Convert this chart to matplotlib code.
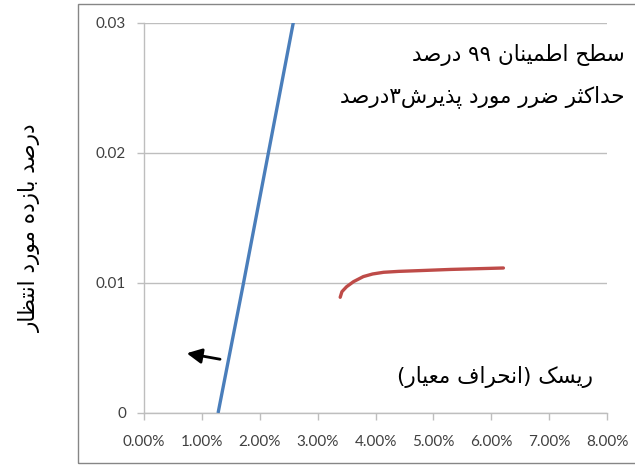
import matplotlib.pyplot as plt
from matplotlib.patches import Rectangle
from matplotlib.ticker import FuncFormatter

# خط بازار سرمایه (آبی) و مرز کارا (قرمز)
blue_x = [0.0128, 0.0172, 0.0215, 0.0258]
blue_y = [0.0, 0.01, 0.02, 0.03]

red_x = [0.0339, 0.0342, 0.0350, 0.0362, 0.0379, 0.0395, 0.0414, 0.0440, 0.0477, 0.0530, 0.0580, 0.0621]
red_y = [0.00889, 0.00932, 0.00970, 0.01009, 0.01048, 0.01068, 0.01081, 0.01088, 0.01094, 0.01103, 0.01109, 0.01114]

x_ticks = [0.0, 0.01, 0.02, 0.03, 0.04, 0.05, 0.06, 0.07, 0.08]
y_ticks = [0.0, 0.01, 0.02, 0.03]

arrow_tail = (0.01314, 0.00413)
arrow_tip = (0.00738, 0.00459)

title1 = "سطح اطمینان ۹۹ درصد"
title2 = "حداکثر ضرر مورد پذیرش۳درصد"
xlabel = "ریسک (انحراف معیار)"
ylabel = "درصد بازده مورد انتظار"


# شکل‌دهی ساده حروف فارسی (isolated, final, initial, medial)
FORMS = {
    "ا": (0xFE8D, 0xFE8E, None, None),
    "ب": (0xFE8F, 0xFE90, 0xFE91, 0xFE92),
    "پ": (0xFB56, 0xFB57, 0xFB58, 0xFB59),
    "ت": (0xFE95, 0xFE96, 0xFE97, 0xFE98),
    "ث": (0xFE99, 0xFE9A, 0xFE9B, 0xFE9C),
    "ج": (0xFE9D, 0xFE9E, 0xFE9F, 0xFEA0),
    "چ": (0xFB7A, 0xFB7B, 0xFB7C, 0xFB7D),
    "ح": (0xFEA1, 0xFEA2, 0xFEA3, 0xFEA4),
    "خ": (0xFEA5, 0xFEA6, 0xFEA7, 0xFEA8),
    "د": (0xFEA9, 0xFEAA, None, None),
    "ذ": (0xFEAB, 0xFEAC, None, None),
    "ر": (0xFEAD, 0xFEAE, None, None),
    "ز": (0xFEAF, 0xFEB0, None, None),
    "ژ": (0xFB8A, 0xFB8B, None, None),
    "س": (0xFEB1, 0xFEB2, 0xFEB3, 0xFEB4),
    "ش": (0xFEB5, 0xFEB6, 0xFEB7, 0xFEB8),
    "ص": (0xFEB9, 0xFEBA, 0xFEBB, 0xFEBC),
    "ض": (0xFEBD, 0xFEBE, 0xFEBF, 0xFEC0),
    "ط": (0xFEC1, 0xFEC2, 0xFEC3, 0xFEC4),
    "ظ": (0xFEC5, 0xFEC6, 0xFEC7, 0xFEC8),
    "ع": (0xFEC9, 0xFECA, 0xFECB, 0xFECC),
    "غ": (0xFECD, 0xFECE, 0xFECF, 0xFED0),
    "ف": (0xFED1, 0xFED2, 0xFED3, 0xFED4),
    "ق": (0xFED5, 0xFED6, 0xFED7, 0xFED8),
    "ک": (0xFB8E, 0xFB8F, 0xFB90, 0xFB91),
    "گ": (0xFB92, 0xFB93, 0xFB94, 0xFB95),
    "ل": (0xFEDD, 0xFEDE, 0xFEDF, 0xFEE0),
    "م": (0xFEE1, 0xFEE2, 0xFEE3, 0xFEE4),
    "ن": (0xFEE5, 0xFEE6, 0xFEE7, 0xFEE8),
    "و": (0xFEED, 0xFEEE, None, None),
    "ه": (0xFEE9, 0xFEEA, 0xFEEB, 0xFEEC),
    "ی": (0xFBFC, 0xFBFD, 0xFBFE, 0xFBFF),
}


def joins_next(c):
    return c in FORMS and FORMS[c][2] is not None


def fa(text):
    out = []
    for i, c in enumerate(text):
        if c not in FORMS:
            out.append(c)
            continue
        prev = text[i - 1] if i > 0 else ""
        nxt = text[i + 1] if i + 1 < len(text) else ""
        p = joins_next(prev)
        n = joins_next(c) and nxt in FORMS
        iso, fin, ini, med = FORMS[c]
        if p and n:
            code = med
        elif p:
            code = fin
        elif n:
            code = ini
        else:
            code = iso
        out.append(chr(code))
    s = "".join(out)[::-1]
    return s.translate(str.maketrans("()", ")("))


fig = plt.figure(figsize=(6.35, 4.66), dpi=100)
ax = fig.add_axes([144 / 635, 1 - 413 / 466, 463 / 635, 390.5 / 466])

# قاب بیرونی نمودار
fig.patches.append(Rectangle((78 / 635, 3 / 466), 0.9, 459 / 466, transform=fig.transFigure,
                             fill=False, edgecolor="#868686", linewidth=1.0))

ax.plot(blue_x, blue_y, color="#4a7ebb", linewidth=2.4, solid_capstyle="butt", zorder=3)
ax.plot(red_x, red_y, color="#be4b48", linewidth=2.4, solid_capstyle="round", zorder=3)

ax.annotate("", xy=arrow_tip, xytext=arrow_tail,
            arrowprops=dict(arrowstyle="-|>,head_length=0.9,head_width=0.45",
                            color="black", linewidth=2.0, shrinkA=0, shrinkB=0))

ax.set_xlim(0, 0.08)
ax.set_ylim(0, 0.03)
ax.set_xticks(x_ticks)
ax.set_yticks(y_ticks)
ax.xaxis.set_major_formatter(FuncFormatter(lambda v, _: f"{v * 100:.2f}%"))
ax.yaxis.set_major_formatter(FuncFormatter(lambda v, _: "0" if v == 0 else f"{v:.2f}"))

ax.grid(axis="y", color="#bebebe", linewidth=1.0)
ax.grid(axis="x", visible=False)
ax.set_axisbelow(True)
for side in ["top", "right"]:
    ax.spines[side].set_visible(False)
for side in ["left", "bottom"]:
    ax.spines[side].set_color("#bebebe")
    ax.spines[side].set_linewidth(1.0)
ax.tick_params(axis="both", direction="out", length=5, width=1.0, color="#bebebe",
               labelsize=11, labelcolor="#404040")
ax.tick_params(axis="x", pad=11)
ax.tick_params(axis="y", pad=8)
for lab in ax.get_xticklabels() + ax.get_yticklabels():
    lab.set_family("Lato")

fig.text(0.984, 0.882, fa(title1), ha="right", va="center", fontsize=15.5, family="DejaVu Sans")
fig.text(0.984, 0.792, fa(title2), ha="right", va="center", fontsize=15.5, family="DejaVu Sans")
fig.text(0.7795, 0.191, fa(xlabel), ha="center", va="center", fontsize=15.5, family="DejaVu Sans")
fig.text(0.047, 0.511, fa(ylabel), ha="center", va="center", rotation=90, fontsize=15.5,
         family="DejaVu Sans")

fig.savefig("out.png", dpi=100)
